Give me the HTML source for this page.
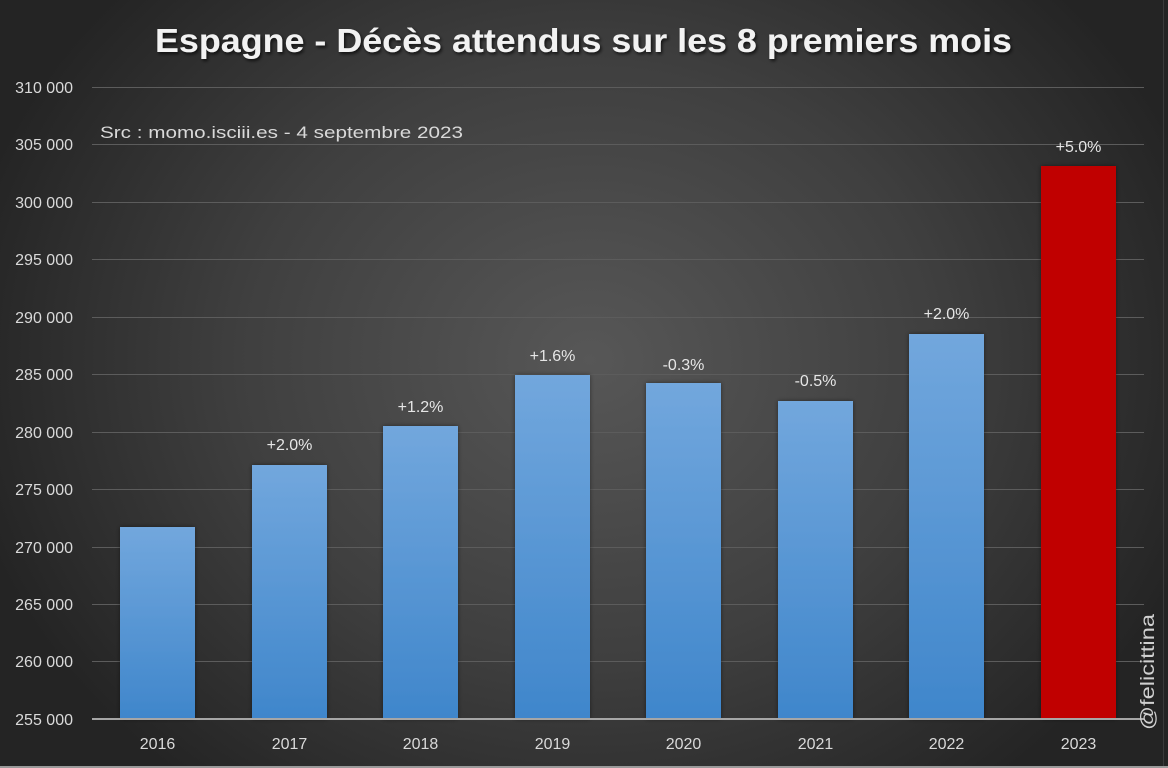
<!DOCTYPE html>
<html><head><meta charset="utf-8"><style>
html,body{margin:0;padding:0;background:#2b2b2b;}
svg{display:block;}
text{font-family:"Liberation Sans",sans-serif;}
</style></head><body>
<svg width="1168" height="768" viewBox="0 0 1168 768" xmlns="http://www.w3.org/2000/svg">
<defs>
<radialGradient id="bg" cx="590" cy="360" r="640" gradientUnits="userSpaceOnUse" gradientTransform="translate(590 360) scale(1 0.85) translate(-590 -360)">
<stop offset="0" stop-color="#575757"/>
<stop offset="0.55" stop-color="#3f3f3f"/>
<stop offset="1" stop-color="#242424"/>
</radialGradient>
<linearGradient id="blue" x1="0" y1="0" x2="0" y2="1">
<stop offset="0" stop-color="#72a7dd"/>
<stop offset="1" stop-color="#3f86cb"/>
</linearGradient>
<filter id="sh" x="-20%" y="-10%" width="140%" height="120%">
<feGaussianBlur in="SourceAlpha" stdDeviation="2.5"/>
<feOffset dx="0" dy="0"/>
<feComponentTransfer><feFuncA type="linear" slope="0.45"/></feComponentTransfer>
<feMerge><feMergeNode/><feMergeNode in="SourceGraphic"/></feMerge>
</filter>
<filter id="tsh" x="-5%" y="-30%" width="110%" height="160%">
<feGaussianBlur in="SourceAlpha" stdDeviation="1.5"/>
<feOffset dx="1.5" dy="2"/>
<feComponentTransfer><feFuncA type="linear" slope="0.7"/></feComponentTransfer>
<feMerge><feMergeNode/><feMergeNode in="SourceGraphic"/></feMerge>
</filter>
</defs>
<rect x="0" y="0" width="1168" height="768" fill="url(#bg)"/>
<rect x="0" y="766" width="1168" height="2" fill="#9a9a9a"/>
<rect x="1163" y="0" width="1" height="766" fill="#3a3a3a"/>

<!-- gridlines -->
<g stroke="#5c5c5c" stroke-width="1">
<line x1="92" y1="87.5" x2="1144" y2="87.5"/>
<line x1="92" y1="144.5" x2="1144" y2="144.5"/>
<line x1="92" y1="202.5" x2="1144" y2="202.5"/>
<line x1="92" y1="259.5" x2="1144" y2="259.5"/>
<line x1="92" y1="317.5" x2="1144" y2="317.5"/>
<line x1="92" y1="374.5" x2="1144" y2="374.5"/>
<line x1="92" y1="432.5" x2="1144" y2="432.5"/>
<line x1="92" y1="489.5" x2="1144" y2="489.5"/>
<line x1="92" y1="547.5" x2="1144" y2="547.5"/>
<line x1="92" y1="604.5" x2="1144" y2="604.5"/>
<line x1="92" y1="661.5" x2="1144" y2="661.5"/>
</g>

<!-- y labels -->
<g fill="#d9d9d9" font-size="16" text-anchor="end">
<text x="73" y="93">310 000</text>
<text x="73" y="150">305 000</text>
<text x="73" y="208">300 000</text>
<text x="73" y="265">295 000</text>
<text x="73" y="323">290 000</text>
<text x="73" y="380">285 000</text>
<text x="73" y="438">280 000</text>
<text x="73" y="495">275 000</text>
<text x="73" y="553">270 000</text>
<text x="73" y="610">265 000</text>
<text x="73" y="667">260 000</text>
<text x="73" y="725">255 000</text>
</g>

<!-- bars -->
<g filter="url(#sh)">
<rect x="120" y="527" width="75" height="192" fill="url(#blue)"/>
<rect x="252" y="465" width="75" height="254" fill="url(#blue)"/>
<rect x="383" y="426" width="75" height="293" fill="url(#blue)"/>
<rect x="515" y="375" width="75" height="344" fill="url(#blue)"/>
<rect x="646" y="383" width="75" height="336" fill="url(#blue)"/>
<rect x="778" y="401" width="75" height="318" fill="url(#blue)"/>
<rect x="909" y="334" width="75" height="385" fill="url(#blue)"/>
<rect x="1041" y="166" width="75" height="553" fill="#c00000"/>
</g>

<line x1="92" y1="719" x2="1144" y2="719" stroke="#a6a6a6" stroke-width="2"/>

<!-- data labels -->
<g fill="#e6e6e6" font-size="16" text-anchor="middle">
<text x="289.5" y="450">+2.0%</text>
<text x="420.5" y="412">+1.2%</text>
<text x="552.5" y="361">+1.6%</text>
<text x="683.5" y="370">-0.3%</text>
<text x="815.5" y="386">-0.5%</text>
<text x="946.5" y="319">+2.0%</text>
<text x="1078.5" y="152">+5.0%</text>
</g>

<!-- x labels -->
<g fill="#d9d9d9" font-size="16" text-anchor="middle">
<text x="157.5" y="749">2016</text>
<text x="289.5" y="749">2017</text>
<text x="420.5" y="749">2018</text>
<text x="552.5" y="749">2019</text>
<text x="683.5" y="749">2020</text>
<text x="815.5" y="749">2021</text>
<text x="946.5" y="749">2022</text>
<text x="1078.5" y="749">2023</text>
</g>

<!-- title -->
<text x="155" y="52" font-size="33" font-weight="bold" fill="#f2f2f2" textLength="857" lengthAdjust="spacingAndGlyphs" filter="url(#tsh)">Espagne - Décès attendus sur les 8 premiers mois</text>

<!-- source -->
<text x="100" y="138" font-size="17" fill="#d9d9d9" textLength="363" lengthAdjust="spacingAndGlyphs">Src : momo.isciii.es - 4 septembre 2023</text>

<!-- watermark -->
<text transform="translate(1154 672) rotate(-90)" font-size="19" fill="#d0d0d0" text-anchor="middle" textLength="116" lengthAdjust="spacingAndGlyphs">@felicittina</text>
</svg>
</body></html>
